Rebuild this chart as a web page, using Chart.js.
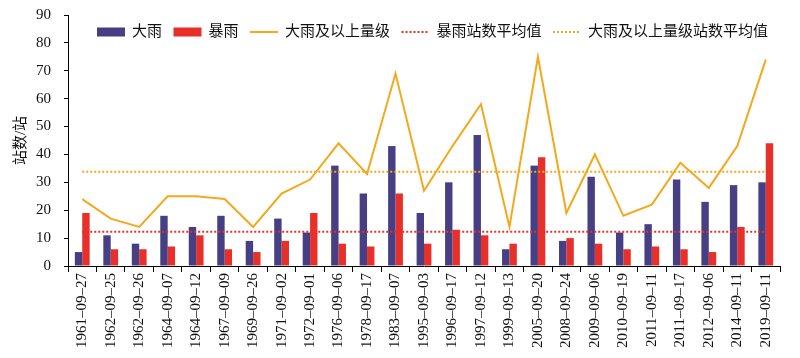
<!DOCTYPE html>
<html><head><meta charset="utf-8">
<script src="https://cdn.jsdelivr.net/npm/chart.js@4.4.0/dist/chart.umd.min.js"></script>
<style>html,body{margin:0;padding:0;background:#fff}#wrap{width:800px;height:358px}</style>
</head>
<body><div id="wrap"><canvas id="c" width="800" height="358"></canvas></div>
<script>
const categories = ['1961–09–27','1962–09–25','1962–09–26','1964–09–07','1964–09–12','1967–09–09','1969–09–26','1971–09–02','1972–09–01','1976–09–06','1978–09–17','1983–09–07','1995–09–03','1996–09–17','1997–09–12','1999–09–13','2005–09–20','2008–09–24','2009–09–06','2010–09–19','2011–09–11','2011–09–17','2012–09–06','2014–09–11','2019–09–11'];
const heavyRain = [5,11,8,18,14,18,9,17,12,36,26,43,19,30,47,6,36,9,32,12,15,31,23,29,30];
const rainstorm = [19,6,6,7,11,6,5,9,19,8,7,26,8,13,11,8,39,10,8,6,7,6,5,14,44];
const heavyAndAbove = [24,17,14,25,25,24,14,26,31,44,33,69,27,43,58,14,75,19,40,18,22,37,28,43,74];
const rainstormAvg = 12.3;
const heavyAndAboveAvg = 33.8;
const yTicks = {min: 0, max: 90, step: 10};

const FONT = "'Liberation Serif', 'Noto Sans CJK SC', serif";
const BLUE = '#463f84', RED = '#e8302a', ORANGE = '#f4a81c';

const legendPlugin = {
  id: 'inlineLegend',
  afterDraw(chart) {
    const {ctx, chartArea} = chart;
    ctx.save();
    ctx.font = '15px ' + FONT;
    ctx.textBaseline = 'middle';
    ctx.fillStyle = '#111';
    const boxW = 28, boxH = 9, gap = 7, pad = 11.5;
    let x = chartArea.left + 29;
    const y = chartArea.top + 17;
    chart.data.datasets.forEach(ds => {
      if (ds.type === 'bar') {
        ctx.fillStyle = ds.backgroundColor;
        ctx.fillRect(x, y - boxH / 2, boxW, boxH);
      } else {
        ctx.strokeStyle = ds.borderColor;
        ctx.lineWidth = 2;
        ctx.setLineDash(ds.borderDash || []);
        ctx.beginPath();
        ctx.moveTo(x, y);
        ctx.lineTo(x + boxW, y);
        ctx.stroke();
        ctx.setLineDash([]);
      }
      ctx.fillStyle = '#111';
      ctx.fillText(ds.label, x + boxW + gap, y);
      x += boxW + gap + ctx.measureText(ds.label).width + pad;
    });
    ctx.restore();
  }
};

new Chart(document.getElementById('c'), {
  data: {
    labels: categories,
    datasets: [
      {type: 'bar', label: '大雨', data: heavyRain, backgroundColor: BLUE, order: 5,
       categoryPercentage: 0.52, barPercentage: 1},
      {type: 'bar', label: '暴雨', data: rainstorm, backgroundColor: RED, order: 5,
       categoryPercentage: 0.52, barPercentage: 1},
      {type: 'line', label: '大雨及以上量级', data: heavyAndAbove, borderColor: ORANGE, borderWidth: 2,
       pointRadius: 0, tension: 0, fill: false, order: 1},
      {type: 'line', label: '暴雨站数平均值', data: categories.map(() => rainstormAvg), borderColor: RED,
       borderWidth: 2, borderDash: [2, 2], pointRadius: 0, fill: false, order: 2},
      {type: 'line', label: '大雨及以上量级站数平均值', data: categories.map(() => heavyAndAboveAvg), borderColor: ORANGE,
       borderWidth: 2, borderDash: [2, 2], pointRadius: 0, fill: false, order: 2}
    ]
  },
  options: {
    responsive: false,
    animation: false,
    devicePixelRatio: 1,
    layout: {padding: {left: 8, right: 20, top: 15, bottom: 0}},
    plugins: {legend: {display: false}, tooltip: {enabled: false}},
    scales: {
      x: {
        offset: true,
        grid: {offset: true, drawOnChartArea: false, drawTicks: true, tickLength: 6, color: '#000'},
        border: {color: '#000', width: 1},
        ticks: {autoSkip: false, maxRotation: 90, minRotation: 90, padding: 1,
                font: {family: FONT, size: 15}, color: '#111'},
        afterFit(s) { s.height = 92; s.paddingLeft = 0; s.paddingRight = 0; }
      },
      y: {
        min: yTicks.min, max: yTicks.max,
        ticks: {stepSize: yTicks.step, padding: 13, font: {family: FONT, size: 15}, color: '#111'},
        grid: {drawOnChartArea: false, drawTicks: true, tickLength: 4, color: '#000'},
        border: {color: '#000', width: 1},
        title: {display: true, text: '站数/站', font: {family: FONT, size: 15}, color: '#111',
                padding: {top: 4, bottom: 4}},
        afterFit(s) { s.width = 60; s.paddingTop = 0; s.paddingBottom = 0; }
      }
    }
  },
  plugins: [legendPlugin]
});
</script>
</body></html>
